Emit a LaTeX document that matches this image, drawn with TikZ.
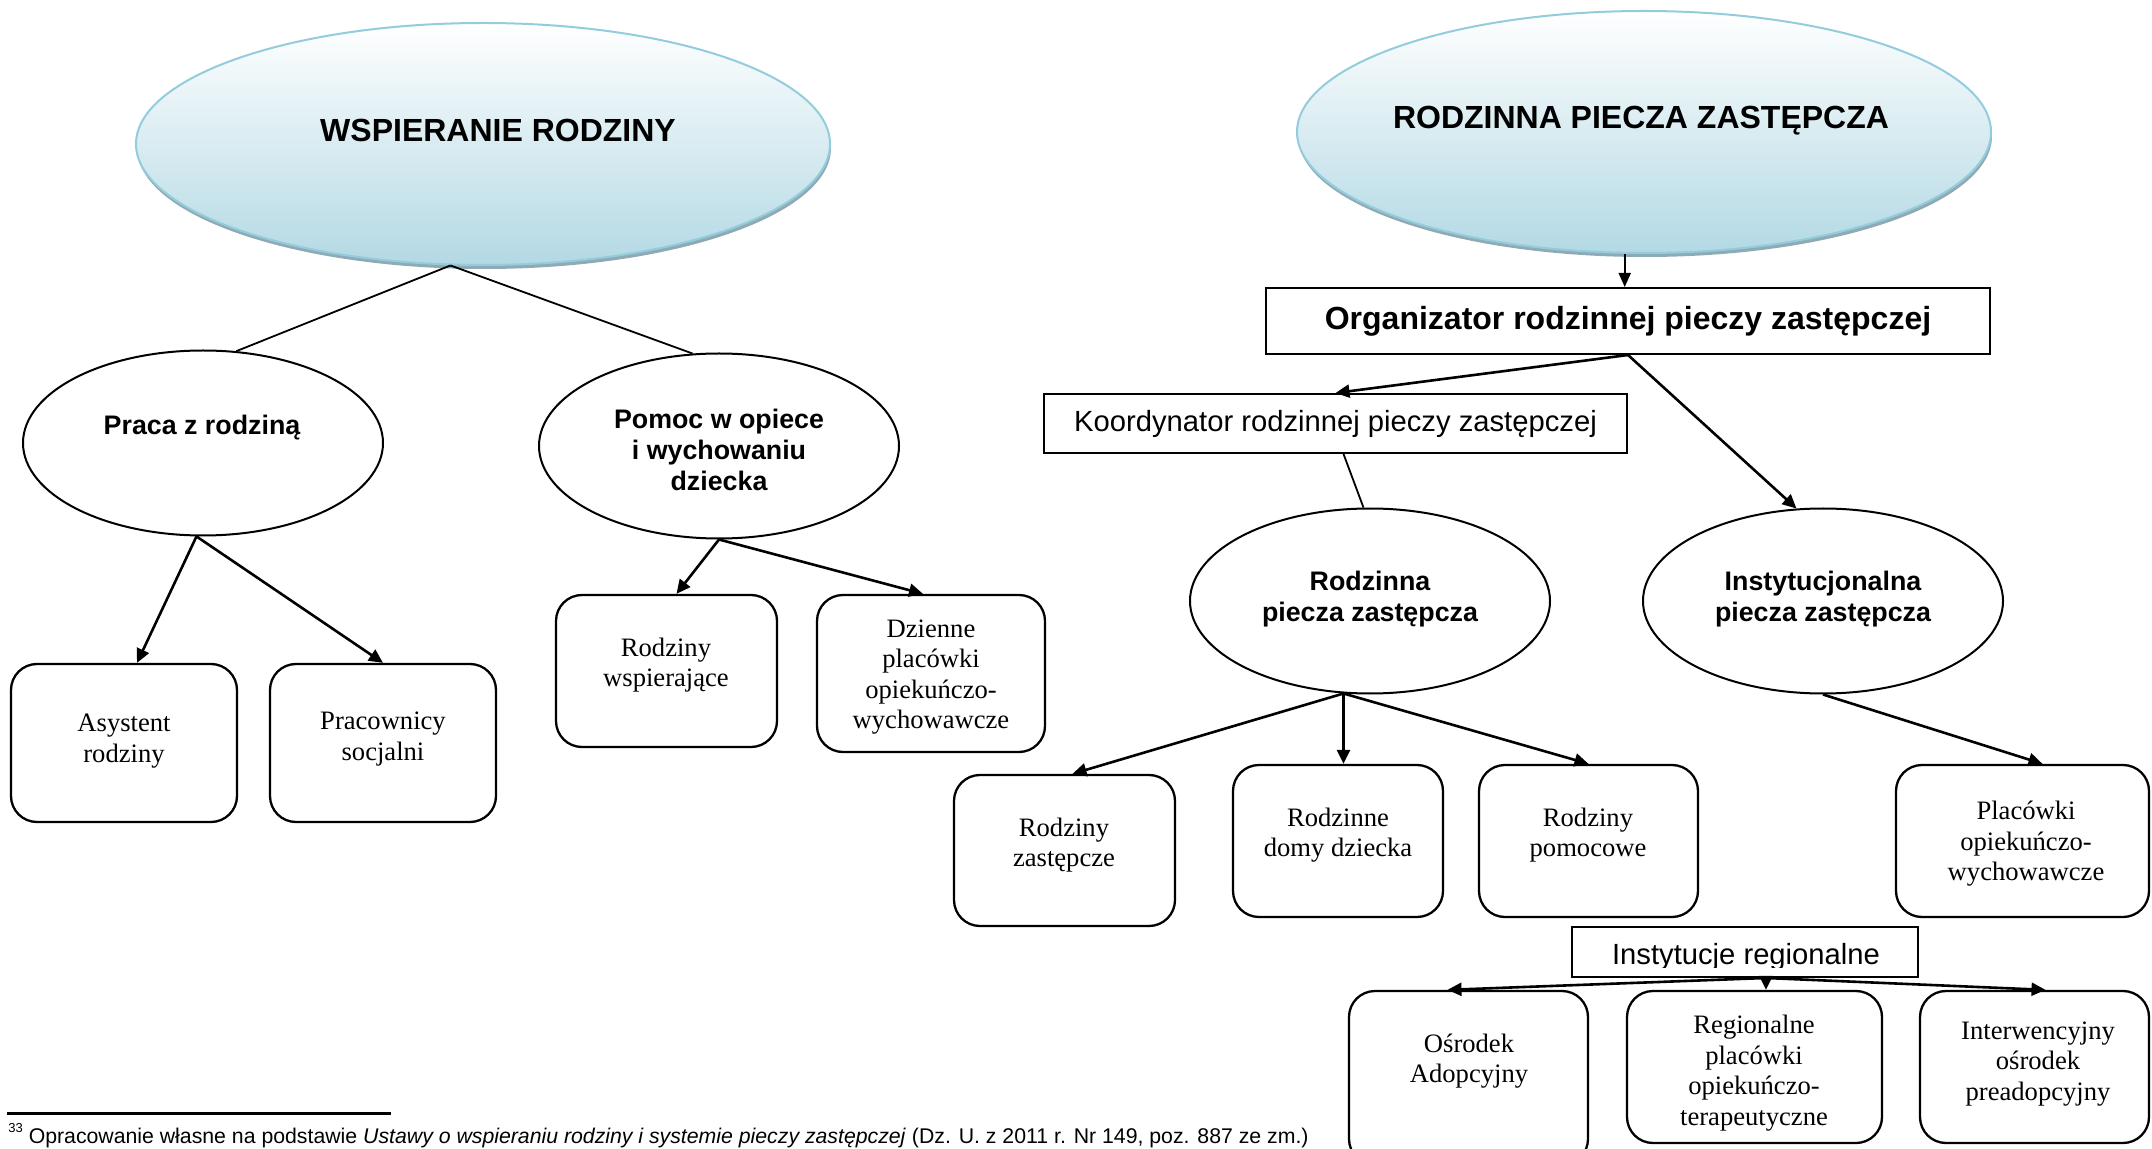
\documentclass[tikz,border=0pt]{standalone}
\usepackage{fontspec}
\setmainfont{Liberation Serif}
\setsansfont{Liberation Sans}
\usetikzlibrary{shapes.geometric,arrows.meta,calc}
\definecolor{ellblue}{HTML}{B3D9E4}
\definecolor{ellborder}{HTML}{93CDDD}
\definecolor{ellshadow}{HTML}{8FAAB4}
\tikzset{
 blueell/.style={ellipse, draw=ellborder, line width=1pt, top color=white, bottom color=ellblue, minimum width=347pt, minimum height=121pt, inner sep=0pt},
 shadowell/.style={ellipse, fill=ellshadow, minimum width=347pt, minimum height=121pt, inner sep=0pt},
 whiteell/.style={ellipse, draw, line width=1pt, fill=white, minimum width=180pt, minimum height=92.5pt, inner sep=0pt},
 rbox/.style={draw, rounded corners=13pt, line width=1.15pt, inner sep=0pt, fill=white},
 sqbox/.style={draw, line width=1pt, inner sep=0pt, fill=white},
 boxtext/.style={font=\fontsize{13.3pt}{15.3pt}\selectfont, align=center, inner sep=0pt},
 elltext/.style={font=\sffamily\bfseries\fontsize{13.4pt}{15.5pt}\selectfont, align=center, inner sep=0pt},
 titletext/.style={font=\sffamily\bfseries\fontsize{16pt}{19pt}\selectfont, inner sep=0pt},
 conn/.style={line width=0.9pt},
 arr/.style={line width=1.3pt, -{Triangle[length=7pt,width=6.5pt]}},
 thinarr/.style={line width=0.9pt, -{Triangle[length=7pt,width=6pt]}},
}
\begin{document}
\begin{tikzpicture}[x=0.5pt,y=-0.5pt]
\useasboundingbox (0,0) rectangle (2152,1149);
\clip (0,0) rectangle (2152,1149);
\fill[white] (0,0) rectangle (2152,1149);

% ---- top ellipses
\node[shadowell] (wspS) at (484,148) {};
\node[blueell] (wsp) at (483,144) {};
\node[titletext, anchor=base] (wspT) at (498,141.5) {WSPIERANIE RODZINY};
\node[shadowell] (rpzS) at (1645,136) {};
\node[blueell] (rpz) at (1644,132) {};
\node[titletext, anchor=base] (rpzT) at (1641,128.5) {RODZINNA PIECZA ZASTĘPCZA};

% ---- left branch
\node[whiteell] (praca) at (203,443) {};
\node[elltext, anchor=base] (pracaT) at (202,435) {Praca z rodziną};
\node[whiteell] (pomoc) at (719,446) {};
\node[elltext] (pomocT) at (719,449.5) {Pomoc w opiece\\i wychowaniu\\dziecka};

\node[rbox, minimum width=113pt, minimum height=79pt] (asyst) at (124,743) {};
\node[boxtext] (asystT) at (124,741) {Asystent\\rodziny};
\node[rbox, minimum width=113pt, minimum height=79pt] (pracown) at (383,743) {};
\node[boxtext] (pracownT) at (383,739) {Pracownicy\\socjalni};
\node[rbox, minimum width=110.5pt, minimum height=76pt] (rwsp) at (666.5,671) {};
\node[boxtext] (rwspT) at (666,665) {Rodziny\\wspierające};
\node[rbox, minimum width=114pt, minimum height=78.5pt] (dzienne) at (931,673.5) {};
\node[boxtext] (dzienneT) at (931,677) {Dzienne\\placówki\\opiekuńczo-\\wychowawcze};

% ---- right branch
\node[sqbox, minimum width=362pt, minimum height=33pt, font=\sffamily\bfseries\fontsize{16pt}{19pt}\selectfont] (org) at (1628,321) {Organizator rodzinnej pieczy zastępczej};
\node[sqbox, minimum width=291.5pt, minimum height=29.5pt, font=\sffamily\fontsize{14.6pt}{17pt}\selectfont] (koord) at (1335.5,423.5) {Koordynator rodzinnej pieczy zastępczej};

\node[whiteell] (rodzinna) at (1370,601) {};
\node[elltext] (rodzinnaT) at (1370,599) {Rodzinna\\piecza zastępcza};
\node[whiteell] (instyt) at (1823,601) {};
\node[elltext] (instytT) at (1823,599) {Instytucjonalna\\piecza zastępcza};

\node[rbox, minimum width=110.5pt, minimum height=75.5pt] (rzast) at (1064.5,850.5) {};
\node[boxtext] (rzastT) at (1064,845) {Rodziny\\zastępcze};
\node[rbox, minimum width=105pt, minimum height=76pt] (rdomy) at (1338,841) {};
\node[boxtext] (rdomyT) at (1338,835) {Rodzinne\\domy dziecka};
\node[rbox, minimum width=109.5pt, minimum height=76pt] (rpomoc) at (1588.5,841) {};
\node[boxtext] (rpomocT) at (1588,835) {Rodziny\\pomocowe};
\node[rbox, minimum width=126.5pt, minimum height=76pt] (placowki) at (2022.5,841) {};
\node[boxtext] (placowkiT) at (2026,844) {Placówki\\opiekuńczo-\\wychowawcze};

\node[sqbox, minimum width=173pt, minimum height=25pt] (instreg) at (1745,952) {};
\begin{scope}
\clip (1572,927) rectangle (1918,967);
\node[font=\sffamily\fontsize{14.6pt}{17pt}\selectfont, anchor=base, inner sep=0pt] (instregT) at (1746,964) {Instytucje regionalne};
\end{scope}

\node[rbox, minimum width=119.5pt, minimum height=87pt] (osrodek) at (1468.5,1078) {};
\node[boxtext] (osrodekT) at (1469,1061) {Ośrodek\\Adopcyjny};
\node[rbox, minimum width=127.5pt, minimum height=76pt] (regionalne) at (1754.5,1067) {};
\node[boxtext] (regionalneT) at (1754,1073) {Regionalne\\placówki\\opiekuńczo-\\terapeutyczne};
\node[rbox, minimum width=114.5pt, minimum height=76pt] (interw) at (2034.5,1067) {};
\node[boxtext] (interwT) at (2038,1064) {Interwencyjny\\ośrodek\\preadopcyjny};

% ---- connectors, left
\draw[conn] (wsp.255) -- (praca.70);
\draw[conn] (wsp.255) -- (pomoc.106);
\draw[arr] (praca.266) -- ($(asyst.north)+(13,0)$);
\draw[arr] (praca.266) -- (pracown.north);
\draw[arr] (pomoc.south) -- ($(rwsp.north)+(10,0)$);
\draw[arr] (pomoc.south) -- ($(dzienne.north)+(-8,0)$);

% ---- connectors, right
\draw[thinarr] (rpz.261) -- (rpz.261 |- org.north);
\draw[arr] (org.south) -- (koord.north);
\draw[arr] (org.south) -- (instyt.106);
\draw[conn] ($(koord.south)+(8,0)$) -- (rodzinna.94);
\draw[arr] (rodzinna.254) -- ($(rzast.north)+(8,0)$);
\draw[arr] (rodzinna.254) -- (rodzinna.254 |- rdomy.north);
\draw[arr] (rodzinna.254) -- (rpomoc.north);
\draw[arr] (instyt.south) -- ($(placowki.north)+(20,0)$);
\coordinate (irs) at ($(instreg.south)+(21,0)$);
\draw[arr] (irs) -- ($(osrodek.north)+(-21,0)$);
\draw[arr] (irs) -- (irs |- regionalne.north);
\draw[arr] (irs) -- ($(interw.north)+(11,0)$);

% ---- footnote
\coordinate (fnA) at (7,1113.5);
\coordinate (fnB) at (391,1113.5);
\draw[line width=1.35pt] (fnA) -- (fnB);
\node[anchor=base west, inner sep=0pt, font=\sffamily\fontsize{10.63pt}{12pt}\selectfont] (fn) at (8,1143) {\raisebox{5.5pt}{\fontsize{6.5pt}{7pt}\selectfont 33} Opracowanie własne na podstawie \textit{Ustawy o wspieraniu rodziny i systemie pieczy zastępczej} (Dz. U. z 2011 r. Nr 149, poz. 887 ze zm.)};
\end{tikzpicture}
\end{document}
